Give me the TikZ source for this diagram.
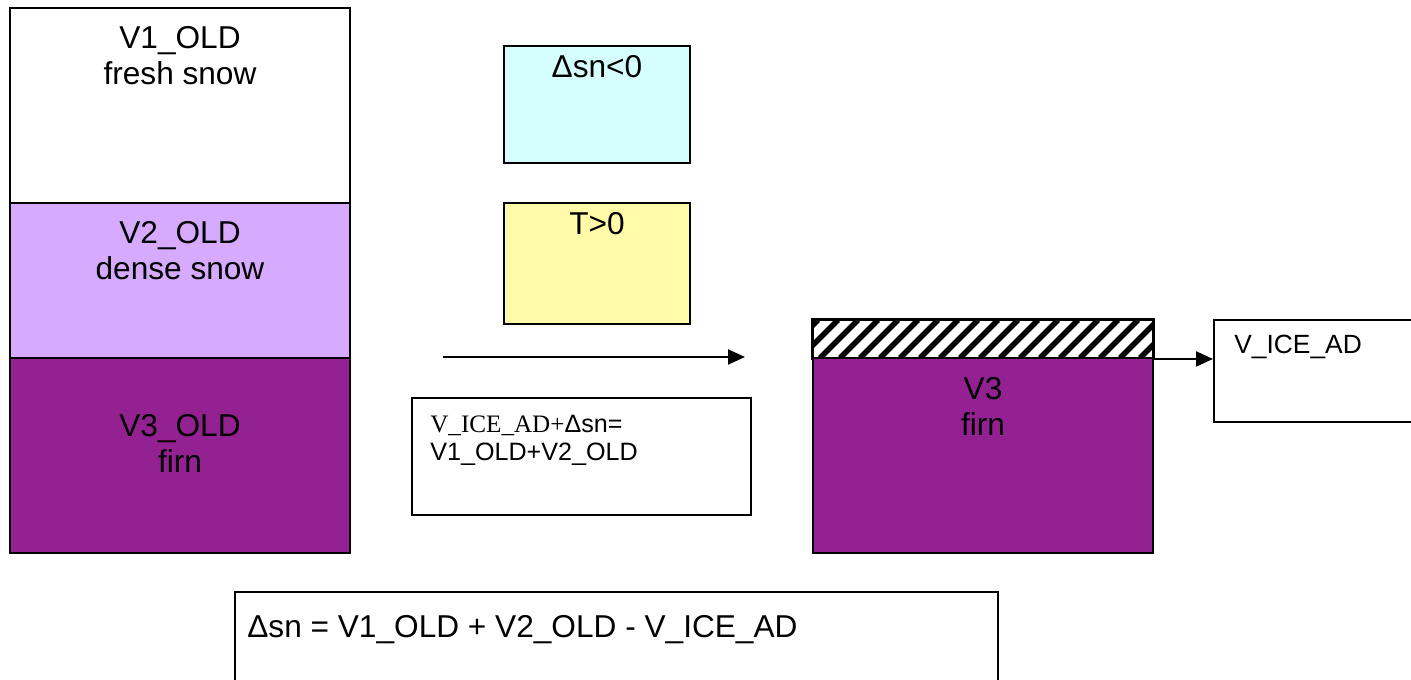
\documentclass[tikz,border=0pt]{standalone}
\usepackage{fontspec}
\setmainfont{Liberation Sans}
\newfontfamily\serifpart{Liberation Serif}
\usetikzlibrary{arrows.meta}
\definecolor{snowlilac}{RGB}{214,170,255}
\definecolor{firnpurple}{RGB}{147,33,145}
\definecolor{condblue}{RGB}{213,255,255}
\definecolor{condyellow}{RGB}{255,251,168}

\begin{document}
\begin{tikzpicture}[x=0.02cm, y=-0.02cm,
  layer/.style={rectangle, draw, line width=1.1pt, minimum width=6.8cm, inner sep=0pt},
  cond/.style={rectangle, draw, line width=1.1pt, minimum width=3.72cm, inner sep=0pt},
  box/.style={rectangle, draw, line width=1.1pt, fill=white, inner sep=0pt},
  big/.style={font=\fontsize{18}{20.5}\selectfont, align=center, inner sep=0pt, anchor=north},
  line/.style={-{Triangle[length=0.34cm,width=0.3cm]}, line width=1.1pt}
]
\clip (0,0) rectangle (1411,680);

% Old snow column
\node[layer, fill=white, minimum height=3.9cm] (v1old) at (180,105.5) {};
\node[layer, fill=snowlilac, minimum height=3.1cm] (v2old) at (180,280.5) {};
\node[layer, fill=firnpurple, minimum height=3.9cm] (v3old) at (180,455.5) {};
\node[big] (v1txt) at (180,26) {V1\_OLD\\fresh snow};
\node[big] (v2txt) at (180,221) {V2\_OLD\\dense snow};
\node[big] (v3txt) at (180,414) {V3\_OLD\\firn};

% Conditions
\node[cond, fill=condblue, minimum height=2.34cm] (dsn) at (597,104.5) {};
\node[cond, fill=condyellow, minimum height=2.42cm] (tpos) at (597,263.5) {};
\node[big] (dsntxt) at (597,55) {Δsn<0};
\node[big] (tpostxt) at (597,212) {T>0};

% Balance
\node[box, minimum width=6.78cm, minimum height=2.34cm] (bal) at (581.5,456.5) {};
\node[anchor=north west, align=left, inner sep=0pt, font=\fontsize{14.3}{16}\selectfont] (baltxt) at (430,415) {{\serifpart V\_ICE\_AD+}Δsn=\\V1\_OLD+V2\_OLD};

% New column
\path node[layer, minimum height=0.76cm] (hatch) at (983,339) {};
\begin{scope}
\clip (hatch.south west) rectangle (hatch.north east);
\foreach \x in {760,780,...,1160}
  \draw[line width=0.11cm] (\x,358) -- ++(38,-38);
\end{scope}
\draw[line width=1.1pt] (hatch.south west) rectangle (hatch.north east);
\node[layer, fill=firnpurple, minimum height=3.9cm] (v3) at (983,455.5) {};
\node[big] (v3newtxt) at (983,377) {V3\\firn};

% Ice output
\node[box, minimum width=4.6cm, minimum height=2.04cm] (icead) at (1329,371) {};
\node[anchor=west, inner sep=0pt, font=\fontsize{15}{18}\selectfont] (iceadtxt) at (1234,347) {V\_ICE\_AD};

% Equation
\node[box, minimum width=15.26cm, minimum height=2.56cm] (eq) at (616.5,656) {};
\node[anchor=west, inner sep=0pt, font=\fontsize{18}{21}\selectfont] (eqtxt) at (247,630) {Δsn = V1\_OLD + V2\_OLD - V\_ICE\_AD};

% Arrows
\coordinate (arrfrom) at (443,357);
\coordinate (arrto) at (745,357);
\draw[line] (arrfrom) -- (arrto);
\draw[line] (hatch.south east) -- (hatch.south east -| icead.west);
\end{tikzpicture}
\end{document}
